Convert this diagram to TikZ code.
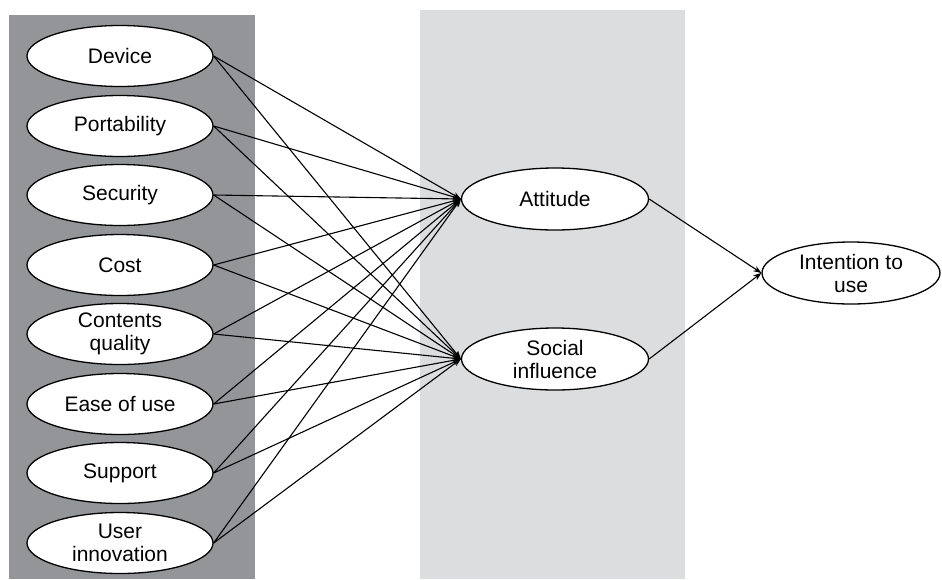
\documentclass[tikz,border=0pt]{standalone}
\usepackage{fontspec}
\setmainfont{Liberation Sans}
\usetikzlibrary{shapes.geometric,arrows.meta}
\definecolor{darkpanel}{HTML}{939598}
\definecolor{lightpanel}{HTML}{DCDDDF}
\tikzset{
  factor/.style={ellipse, draw=black, line width=1.3pt, fill=white, minimum width=186pt, minimum height=61pt, inner sep=0pt, align=center, font=\fontsize{21}{23}\selectfont},
  link/.style={line width=1.1pt, -{Stealth[length=8pt,width=6pt]}}
}
\begin{document}
\begin{tikzpicture}[x=1pt,y=-1pt]
\useasboundingbox (0,0) rectangle (942,579);
\fill[darkpanel] (9,15) rectangle (255,579);
\fill[lightpanel] (420,10) rectangle (685,579);
\node[factor] (dev) at (120,56) {Device};
\node[factor] (por) at (120,126) {Portability};
\node[factor] (sec) at (120,195) {Security};
\node[factor] (cos) at (120,265) {Cost};
\node[factor] (con) at (120,334) {Contents\\quality};
\node[factor] (eas) at (120,404) {Ease of use};
\node[factor] (sup) at (120,473) {Support};
\node[factor] (usr) at (120,543) {User\\innovation};
\node[factor, minimum width=187pt, minimum height=62pt] (att) at (555,199) {Attitude};
\node[factor, minimum width=187pt, minimum height=62pt] (soc) at (555,359) {Social\\influence};
\node[factor, minimum width=178pt, minimum height=62pt] (int) at (851,273) {Intention to\\use};
\foreach \s in {dev,por,sec,cos,con,eas,sup,usr}{
  \draw[link] (\s.east) -- (att.west);
  \draw[link] (\s.east) -- (soc.west);
}
\draw[link] (att.east) -- (int.west);
\draw[link] (soc.east) -- (int.west);
\end{tikzpicture}
\end{document}
